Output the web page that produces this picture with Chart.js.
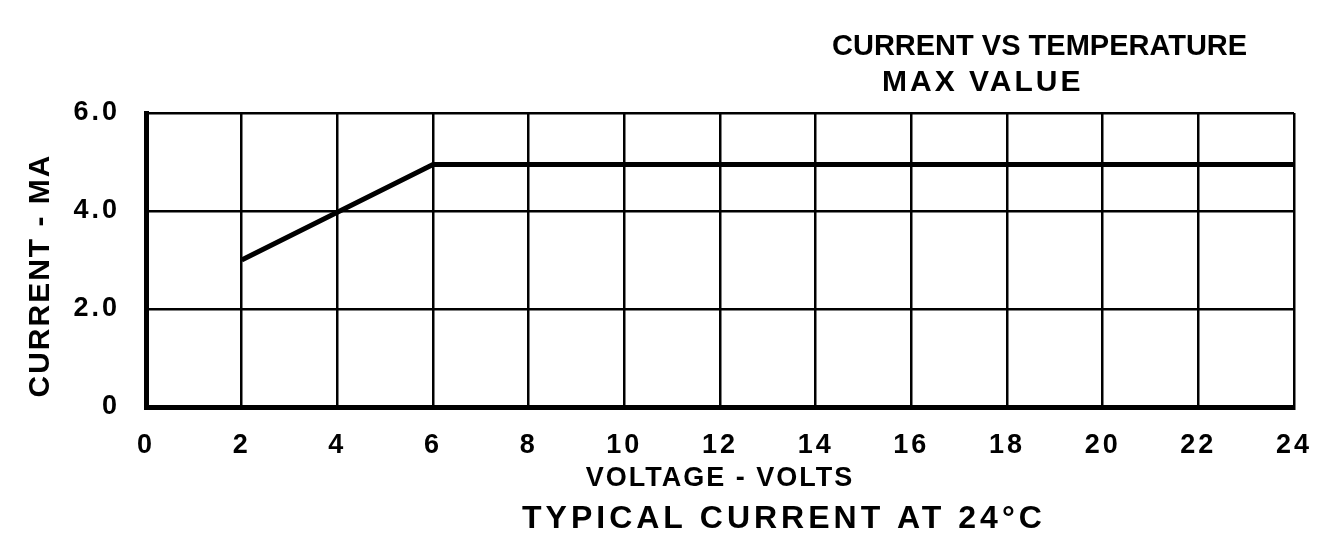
<!DOCTYPE html>
<html>
<head>
<meta charset="utf-8">
<script src="https://cdn.jsdelivr.net/npm/chart.js@4.4.1/dist/chart.umd.min.js"></script>
<style>
  html, body { margin: 0; padding: 0; background: #ffffff; }
  #wrap { width: 1319px; height: 536px; }
  canvas { display: block; }
</style>
</head>
<body>
<div id="wrap"><canvas id="chart" width="1319" height="536"></canvas></div>
<script>
// ---- data ----
const voltage = [2, 6, 24];                 // VOLTAGE - VOLTS
const currentMax = [3.0, 4.95, 4.95];       // CURRENT - MA
const xTickValues = [0, 2, 4, 6, 8, 10, 12, 14, 16, 18, 20, 22, 24];
const yTickValues = [0, 2, 4, 6];
const yTickLabels = ['0', '2.0', '4.0', '6.0'];
const titleLine1 = 'CURRENT VS TEMPERATURE';
const titleLine2 = 'MAX VALUE';
const bottomCaption = 'TYPICAL CURRENT AT 24°C';
const xAxisTitle = 'VOLTAGE - VOLTS';
const yAxisTitle = 'CURRENT - MA';

const FONT = '"Liberation Sans", Arial, sans-serif';

const points = voltage.map((v, i) => ({ x: v, y: currentMax[i] }));

const textPlugin = {
  id: 'drawingTexts',
  beforeDraw(chart) {
    chart.ctx.letterSpacing = '2px';
  },
  afterDatasetsDraw(chart) {
    chart.ctx.letterSpacing = '3px';
  },
  afterDraw(chart) {
    const ctx = chart.ctx;
    ctx.save();
    ctx.fillStyle = '#000';
    ctx.textAlign = 'left';
    ctx.textBaseline = 'alphabetic';
    ctx.font = 'bold 29px ' + FONT;
    ctx.letterSpacing = '0px';
    ctx.fillText(titleLine1, 832, 55);
    ctx.font = 'bold 30px ' + FONT;
    ctx.letterSpacing = '3px';
    ctx.fillText(titleLine2, 882, 91);
    ctx.font = 'bold 32px ' + FONT;
    ctx.letterSpacing = '4px';
    ctx.fillText(bottomCaption, 522, 528);
    ctx.restore();
    ctx.letterSpacing = '0px';
  }
};

new Chart(document.getElementById('chart'), {
  type: 'scatter',
  data: {
    datasets: [{
      data: points,
      showLine: true,
      borderColor: '#000',
      backgroundColor: '#000',
      borderWidth: 5,
      pointRadius: 0,
      tension: 0,
      borderCapStyle: 'butt',
      borderJoinStyle: 'miter',
      fill: false
    }]
  },
  options: {
    responsive: false,
    devicePixelRatio: 1,
    animation: false,
    layout: { padding: { top: 113, right: 25, bottom: 0, left: 0 } },
    plugins: {
      legend: { display: false },
      tooltip: { enabled: false },
      title: { display: false }
    },
    scales: {
      x: {
        type: 'linear',
        min: 0,
        max: 24,
        afterBuildTicks(scale) { scale.ticks = xTickValues.map(v => ({ value: v })); },
        afterFit(scale) { scale.height = 129; scale.paddingRight = 0; },
        ticks: {
          z: 1,
          color: '#000',
          padding: 22,
          font: { family: FONT, size: 27, weight: 'bold' },
          callback: (v) => String(v)
        },
        grid: { color: '#000', lineWidth: 2.5, drawTicks: false },
        border: { display: true, color: '#000', width: 5 },
        title: {
          display: true,
          text: xAxisTitle,
          color: '#000',
          font: { family: FONT, size: 27, weight: 'bold', lineHeight: 1 },
          padding: { top: 0, bottom: 44 }
        }
      },
      y: {
        type: 'linear',
        min: 0,
        max: 6,
        afterBuildTicks(scale) { scale.ticks = yTickValues.map(v => ({ value: v })); },
        afterFit(scale) { scale.width = 146; },
        ticks: {
          z: 1,
          color: '#000',
          padding: 26,
          font: { family: FONT, size: 27, weight: 'bold' },
          callback: (v) => yTickLabels[yTickValues.indexOf(v)]
        },
        grid: { color: '#000', lineWidth: 2.5, drawTicks: false },
        border: { display: true, color: '#000', width: 5 },
        title: {
          display: true,
          text: yAxisTitle + '   ',
          color: '#000',
          font: { family: FONT, size: 30, weight: 'bold', lineHeight: 1 },
          padding: { top: 26, bottom: 0 }
        }
      }
    }
  },
  plugins: [textPlugin]
});
</script>
</body>
</html>
